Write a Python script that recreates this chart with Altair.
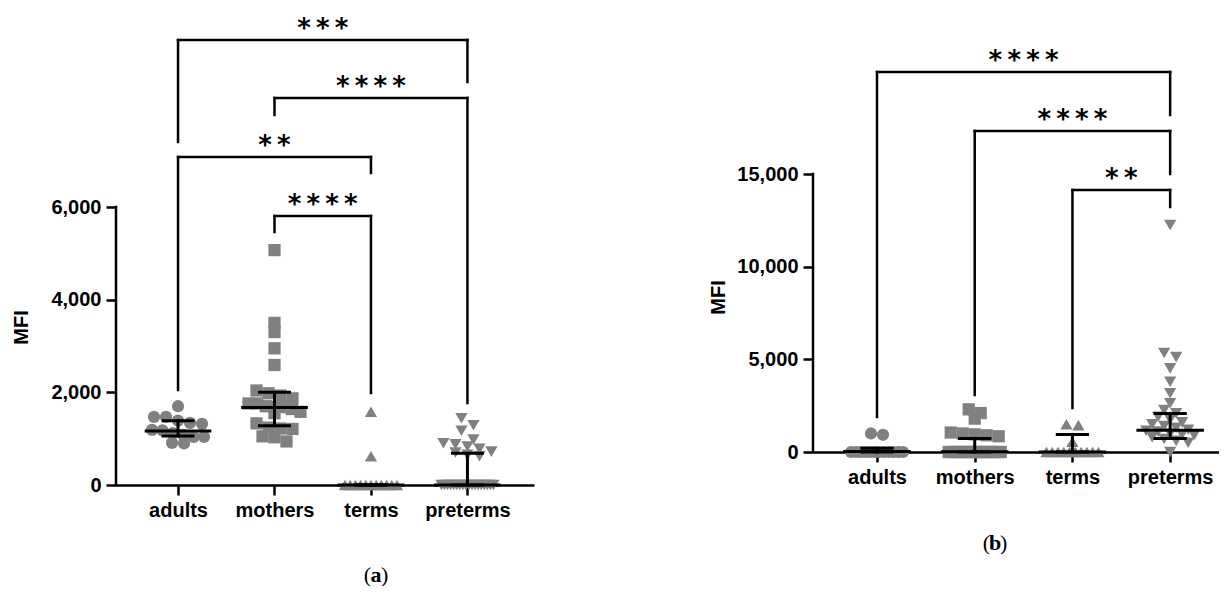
import altair as alt
import pandas as pd

categories = ["adults", "mothers", "terms", "preterms"]
shapes = ["circle", "square", "triangle-up", "triangle-down"]
ticks_a = [0, 2000, 4000, 6000]
ticks_b = [0, 5000, 10000, 15000]

# ---- panel (a) values (MFI) ----
a_adults = [1700, 1470, 1470, 1390, 1340, 1320, 1190, 1180, 1120, 1080, 1040, 1040, 910, 900]
a_mothers = [5070, 3500, 3300, 2950, 2590, 2040, 1980, 1930, 1870, 1760, 1760, 1700,
             1690, 1680, 1640, 1580, 1550, 1330, 1240, 1220, 1210, 1050, 1030, 940]
a_terms = [1580, 620, 0, 0, 0, 0, 0, 0, 0, 0, 0, 0, 0]
a_preterms = [1440, 1290, 1170, 980, 900, 880, 830, 780, 720, 700, 650, 620,
              0, 0, 0, 0, 0, 0, 0, 0, 0, 0, 0, 0, 0, 0, 0, 0, 0, 0]
a_median = [1165, 1670, 0, 0]
a_q1 = [1057, 1280, 0, 0]
a_q3 = [1387, 2000, 0, 683]
a_br_left = [1, 2, 1, 2]
a_br_right = [4, 4, 3, 3]
a_br_y = [9604, 8353, 7079, 5806]
a_br_left_end = [7403, 7986, 2050, 5460]
a_br_right_end = [8698, 1770, 6734, 1986]
a_br_label = ["***", "****", "**", "****"]

# ---- panel (b) values (MFI) ----
b_adults = [1000, 930, 0, 0, 0, 0, 0, 0, 0, 0, 0, 0, 0, 0]
b_mothers = [2300, 2100, 1800, 1050, 1000, 950, 900, 850,
             0, 0, 0, 0, 0, 0, 0, 0, 0, 0, 0, 0, 0, 0, 0, 0, 0, 0]
b_terms = [1500, 1450, 550, 0, 0, 0, 0, 0, 0, 0, 0, 0, 0]
b_preterms = [12250, 5340, 5120, 4510, 3790, 3170, 2630, 2270, 2090, 1900, 1750, 1600,
              1500, 1400, 1300, 1200, 1150, 1100, 1000, 950, 900, 800, 700, 600, 500, 0]
b_median = [30, 20, 0, 1180]
b_q1 = [0, 0, 0, 735]
b_q3 = [200, 735, 950, 2080]
b_br_left = [1, 2, 3]
b_br_right = [4, 4, 4]
b_br_y = [20504, 17321, 14137]
b_br_left_end = [1889, 3076, 2374]
b_br_right_end = [18184, 15000, 13220]
b_br_label = ["****", "****", "**"]

GREY = "#808080"
FONT = "Liberation Sans"


def spread(values, px_per_unit, cat_px, row_px=6.0, step_px=12.0, max_px=52.0):
    """Deterministic horizontal spreading of points that share a value row."""
    idx = sorted(range(len(values)), key=lambda i: -values[i])
    rows = []
    for i in idx:
        if rows and abs(values[rows[-1][0]] - values[i]) * px_per_unit < row_px:
            rows[-1].append(i)
        else:
            rows.append([i])
    off = [0.0] * len(values)
    for r in rows:
        n = len(r)
        if n == 1:
            continue
        step = min(step_px, max_px / (n - 1))
        for k, i in enumerate(r):
            off[i] = (k - (n - 1) / 2) * step / cat_px
    return off


def panel(groups, med, q1, q3, brl, brr, bry, brle, brre, brlab, yticks,
          ymax, xdom, width, height, title_y, tag, tag_x, tag_y, row_px):
    cat_px = width / (xdom[1] - xdom[0])
    px_per_unit = height / ymax

    rows = []
    for ci, vals in enumerate(groups):
        offs = spread(vals, px_per_unit, cat_px, row_px=row_px)
        for v, o in zip(vals, offs):
            rows.append({"cat": categories[ci], "x": ci + 1 + o, "y": v})
    pts = pd.DataFrame(rows)

    segs = []
    # y axis line
    segs.append({"x": xdom[0], "x2": xdom[0], "y": 0, "y2": yticks[-1], "w": 2.5})
    # median / IQR bars
    for ci in range(4):
        c = ci + 1
        segs.append({"x": c, "x2": c, "y": q1[ci], "y2": q3[ci], "w": 3})
        for val, hw in ((med[ci], 0.33), (q1[ci], 0.155), (q3[ci], 0.155)):
            segs.append({"x": c - hw, "x2": c + hw, "y": val, "y2": val, "w": 3})
    # significance brackets
    lab_rows = []
    for l, r, yv, le, re_, lab in zip(brl, brr, bry, brle, brre, brlab):
        segs.append({"x": l, "x2": r, "y": yv, "y2": yv, "w": 2.5})
        segs.append({"x": l, "x2": l, "y": le, "y2": yv, "w": 2.5})
        segs.append({"x": r, "x2": r, "y": re_, "y2": yv, "w": 2.5})
        lab_rows.append({"x": (l + r) / 2, "y": yv, "t": "\u2009".join(lab)})
    segs = pd.DataFrame(segs)
    labs = pd.DataFrame(lab_rows)

    xs = alt.Scale(domain=xdom, nice=False, zero=False)
    ys = alt.Scale(domain=[0, ymax], nice=False, zero=False)
    label_expr = "[" + ",".join("'%s'" % c for c in categories) + "][datum.value-1]"
    xaxis = alt.Axis(values=[1, 2, 3, 4], labelExpr=label_expr, title=None, grid=False,
                     domainColor="black", domainWidth=2.5, tickColor="black", tickWidth=2.5,
                     tickSize=10, labelFont=FONT, labelFontWeight="bold", labelFontSize=20,
                     labelColor="black", labelPadding=5, labelFlush=False)
    yaxis = alt.Axis(values=yticks, format=",d", domain=False, grid=False, tickColor="black",
                     tickWidth=2.5, tickSize=10, labelFont=FONT, labelFontWeight="bold",
                     labelFontSize=20, labelColor="black", labelPadding=5, labelFlush=False,
                     title="MFI", titleFont=FONT, titleFontSize=20, titleFontWeight="bold",
                     titleColor="black", titleAngle=270, titleBaseline="middle",
                     titleX=-95, titleY=title_y)

    def X(f="x"):
        return alt.X(f + ":Q", scale=xs, axis=xaxis)

    def Y(f="y"):
        return alt.Y(f + ":Q", scale=ys, axis=yaxis)

    points = alt.Chart(pts).mark_point(filled=True, opacity=1, size=150, strokeWidth=0).encode(
        x=X(), y=Y(),
        shape=alt.Shape("cat:N", scale=alt.Scale(domain=categories, range=shapes), legend=None),
        color=alt.value(GREY),
    )
    lines = alt.Chart(segs).mark_rule(color="black", strokeCap="square").encode(
        x=X(), x2="x2:Q", y=Y(), y2="y2:Q",
        strokeWidth=alt.StrokeWidth("w:Q", scale=None),
    )
    stars = alt.Chart(labs).mark_text(font="DejaVu Sans", fontSize=26, fontWeight="bold",
                                      baseline="alphabetic", dy=-3, color="black").encode(
        x=X(), y=Y(), text="t:N")
    tagdf = pd.DataFrame({"t": ["(", tag, ")"]})
    tag_open = alt.Chart(tagdf.iloc[[0]]).mark_text(
        font="Liberation Serif", fontSize=22, align="right", baseline="middle", dx=-5,
        color="black").encode(x=alt.value(tag_x), y=alt.value(tag_y), text="t:N")
    tag_mid = alt.Chart(tagdf.iloc[[1]]).mark_text(
        font="Liberation Serif", fontSize=22, fontWeight="bold", align="center",
        baseline="middle", color="black").encode(x=alt.value(tag_x), y=alt.value(tag_y), text="t:N")
    tag_close = alt.Chart(tagdf.iloc[[2]]).mark_text(
        font="Liberation Serif", fontSize=22, align="left", baseline="middle", dx=5,
        color="black").encode(x=alt.value(tag_x), y=alt.value(tag_y), text="t:N")

    return alt.layer(points, lines, stars, tag_open, tag_mid, tag_close).properties(
        width=width, height=height)


pa = panel([a_adults, a_mothers, a_terms, a_preterms], a_median, a_q1, a_q3,
           a_br_left, a_br_right, a_br_y, a_br_left_end, a_br_right_end, a_br_label,
           ticks_a, 10252, [0.357, 4.69], 418, 475, 317, "a", 260, 565, 9.0)
pb = panel([b_adults, b_mothers, b_terms, b_preterms], b_median, b_q1, b_q3,
           b_br_left, b_br_right, b_br_y, b_br_left_end, b_br_right_end, b_br_label,
           ticks_b, 23849, [0.345, 4.50], 406, 442, 287, "b", 182, 533, 6.0)

chart = alt.hconcat(pa, pb, spacing=174).properties(
    padding={"left": 3, "top": 2, "right": 0, "bottom": 0}
).configure_view(stroke=None)

chart.save("out.html", embed_options={"renderer": "svg", "actions": False})
